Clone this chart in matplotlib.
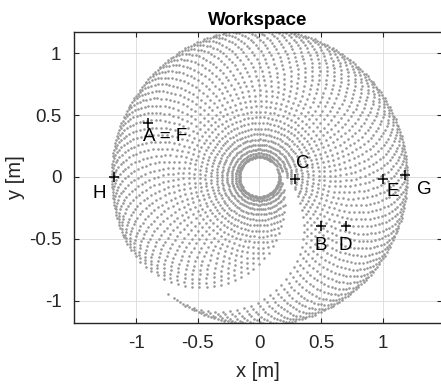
import numpy as np
import matplotlib
matplotlib.use('Agg')
import matplotlib.pyplot as plt

plt.rcParams['font.family'] = ['Liberation Sans', 'DejaVu Sans']

# arm geometry [m] and joint limits [deg]
L1 = 0.52
L2 = 0.68
q1_range = (-128, 205)
q2_range = (0, 180)
q1_step = 4
q2_step = 5

# marked poses
pt_names = ['A = F', 'B', 'C', 'D', 'E', 'G', 'H']
pt_x = [-0.9, 0.5, 0.29, 0.7, 1.0, 1.18, -1.18]
pt_y = [0.44, -0.4, -0.02, -0.4, -0.02, 0.02, 0.0]
# where each name sits relative to its cross
lbl_dx = [0.137, 0.0, 0.06, 0.0, 0.08, 0.16, -0.12]
lbl_dy = [-0.116, -0.15, 0.13, -0.15, -0.10, -0.12, -0.13]

# forward kinematics over the joint grid
q1 = np.deg2rad(np.arange(q1_range[0], q1_range[1] + 0.01, q1_step))
q2 = np.deg2rad(np.arange(q2_range[0], q2_range[1] + 0.01, q2_step))
Q1, Q2 = np.meshgrid(q1, q2)
X = L1 * np.cos(Q1) + L2 * np.cos(Q1 + Q2)
Y = L1 * np.sin(Q1) + L2 * np.sin(Q1 + Q2)

fig = plt.figure(figsize=(4.41, 3.85), dpi=100)
ax = fig.add_axes([74 / 441, 62.3 / 385, 368 / 441, 290.7 / 385])

ax.scatter(X.ravel(), Y.ravel(), s=3.5, c='0.6', linewidths=0, zorder=2)

for name, x, y, dx, dy in zip(pt_names, pt_x, pt_y, lbl_dx, lbl_dy):
    ax.plot(x, y, '+', color='k', ms=7, mew=1.1, zorder=3)
    ax.text(x + dx, y + dy, name, ha='center', va='center', fontsize=13.5, zorder=4)

ax.set_xlim(-1.503, 1.482)
ax.set_ylim(-1.178, 1.172)
ticks = [-1, -0.5, 0, 0.5, 1]
tick_lbls = ['-1', '-0.5', '0', '0.5', '1']
ax.set_xticks(ticks)
ax.set_xticklabels(tick_lbls)
ax.set_yticks(ticks)
ax.set_yticklabels(tick_lbls)
ax.tick_params(direction='in', length=3.5, width=0.8, top=True, right=True,
               labelsize=13.5, colors='0.15', pad=9)
ax.grid(True, color='0.87', lw=0.7, zorder=0)
ax.set_axisbelow(True)
for sp in ax.spines.values():
    sp.set_color('0.15')
    sp.set_linewidth(1.0)

ax.set_xlabel('x [m]', fontsize=14.5, color='0.15', labelpad=7)
ax.set_ylabel('y [m]', fontsize=14.5, color='0.15', labelpad=3)
ax.set_title('Workspace', fontsize=13.5, fontweight='bold', pad=5)

fig.savefig('out.png', dpi=100)
